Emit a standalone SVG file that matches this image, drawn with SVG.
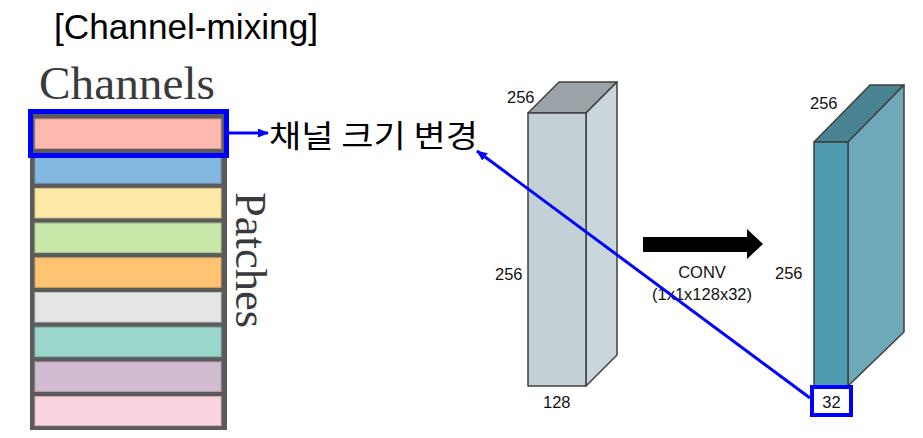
<svg xmlns="http://www.w3.org/2000/svg" width="923" height="438" viewBox="0 0 923 438">
<style>
.sans{font-family:"Liberation Sans",Arial,sans-serif;fill:#000}
.serif{font-family:"Liberation Serif","Times New Roman",serif;fill:#3a3a3a}
.kr{font-family:"Noto Sans CJK KR","Liberation Sans",sans-serif;fill:#000}
.dim{font-family:"Liberation Sans",Arial,sans-serif;font-size:16.5px;fill:#111}
.bar{stroke-width:1}
.edge{stroke:#3f3f3f;stroke-width:1.5;stroke-linejoin:round}
.blue{stroke:#0000ff;fill:none}
</style>
<defs>
<marker id="ah" markerWidth="11" markerHeight="9" refX="10" refY="4.5" orient="auto" markerUnits="userSpaceOnUse">
<path d="M0,0 L11,4.5 L0,9 Z" fill="#0000ff"/>
</marker>
</defs>
<rect width="923" height="438" fill="#fff"/>
<text class="sans" x="54" y="39" font-size="35" textLength="264" lengthAdjust="spacingAndGlyphs">[Channel-mixing]</text>

<g id="channels-table">
<text class="serif" x="39" y="99" font-size="47" textLength="176" lengthAdjust="spacingAndGlyphs">Channels</text>
<rect x="30" y="114" width="197" height="316" fill="#5b5b5b"/>
<rect class="bar" x="35" y="119" width="186" height="29.5" fill="#ffb8b0" stroke="#d49a94"/>
<rect class="bar" x="35" y="153.7" width="186" height="29.5" fill="#85b8e0" stroke="#6f9bbd"/>
<rect class="bar" x="35" y="188.4" width="186" height="29.5" fill="#ffe9a8" stroke="#d8c68f"/>
<rect class="bar" x="35" y="223.1" width="186" height="29.5" fill="#c8e8aa" stroke="#a9c790"/>
<rect class="bar" x="35" y="257.8" width="186" height="29.5" fill="#ffc372" stroke="#d8a561"/>
<rect class="bar" x="35" y="292.5" width="186" height="29.5" fill="#e5e5e5" stroke="#c4c4c4"/>
<rect class="bar" x="35" y="327.2" width="186" height="29.5" fill="#9ad6c9" stroke="#83b6ab"/>
<rect class="bar" x="35" y="361.9" width="186" height="29.5" fill="#d3bbd2" stroke="#b39fb2"/>
<rect class="bar" x="35" y="396.6" width="186" height="29" fill="#f9d3de" stroke="#d4b3bc"/>
<text class="serif" transform="translate(236,192) rotate(90)" font-size="45" textLength="136" lengthAdjust="spacingAndGlyphs">Patches</text>
<rect class="blue" x="30.5" y="111.5" width="196" height="44" stroke-width="5"/>
</g>

<g id="label-change">
<text class="kr" x="269" y="147" font-size="31" textLength="209" lengthAdjust="spacingAndGlyphs">채널 크기 변경</text>
</g>

<g id="input-tensor">
<polygon class="edge" points="528,113 586,113 617,82 559,82" fill="#9aa4a8"/>
<polygon class="edge" points="586,113 617,82 617,355 586,386" fill="#c9d6db"/>
<rect class="edge" x="528" y="113" width="58" height="273" fill="#c3d1d6"/>
<text class="dim" x="507" y="103">256</text>
<text class="dim" x="495" y="280">256</text>
<text class="dim" x="543" y="408">128</text>
</g>

<g id="conv-op">
<polygon points="643,237 747,237 747,229 763,244 747,259 747,252 643,252" fill="#000"/>
<text class="dim" x="702" y="278" font-size="15" text-anchor="middle">CONV</text>
<text class="dim" x="702" y="300" font-size="15.5" text-anchor="middle">(1x1x128x32)</text>
</g>

<g id="output-tensor">
<polygon class="edge" points="814,142 848,142 904,85 870,85" fill="#4a8391"/>
<polygon class="edge" points="848,142 904,85 904,332 848,386" fill="#6ea9b9"/>
<rect class="edge" x="814" y="142" width="34" height="244" fill="#4f9bb0"/>
<text class="dim" x="810" y="109">256</text>
<text class="dim" x="775" y="279">256</text>
<rect x="812" y="387" width="39" height="28" fill="#fff" stroke="#0000ff" stroke-width="4"/>
<text class="dim" x="831.5" y="408" text-anchor="middle">32</text>
</g>

<g id="connectors">
<line class="blue" x1="229" y1="133" x2="268" y2="133" stroke-width="3" marker-end="url(#ah)"/>
<line class="blue" x1="810" y1="398" x2="477" y2="151" stroke-width="3" marker-end="url(#ah)"/>
</g>
</svg>
